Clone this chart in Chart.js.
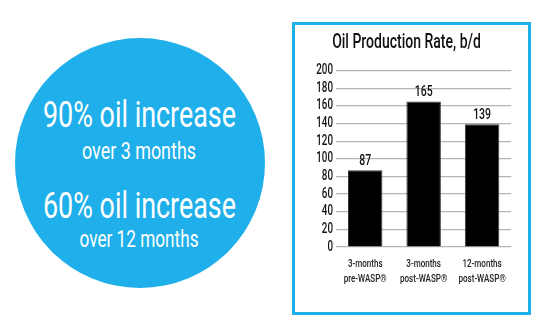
<!DOCTYPE html>
<html>
<head>
<meta charset="utf-8">
<script src="https://cdn.jsdelivr.net/npm/chart.js@4.4.1/dist/chart.umd.min.js"></script>
<style>
  html, body { margin: 0; padding: 0; background: #ffffff; width: 546px; height: 330px; overflow: hidden; }
  #bg { position: absolute; left: 0; top: 0; }
  #box { position: absolute; left: 292px; top: 22px; width: 233px; height: 287px; border: 3px solid #1fb0ea; background: #fff; }
  #chart { position: absolute; left: 295px; top: 25px; }
</style>
</head>
<body>
<svg id="bg" width="546" height="330" xmlns="http://www.w3.org/2000/svg">
  <circle cx="140" cy="163" r="125" fill="#1fafea"/>
  <g fill="#ffffff" font-family="Roboto, 'DejaVu Sans Condensed', sans-serif" text-anchor="middle">
    <text x="139.5" y="126.5" font-size="36" textLength="193" lengthAdjust="spacingAndGlyphs">90% oil increase</text>
    <text x="139" y="158.5" font-size="24.5" textLength="114" lengthAdjust="spacingAndGlyphs">over 3 months</text>
    <text x="139.5" y="218" font-size="36.5" textLength="193" lengthAdjust="spacingAndGlyphs">60% oil increase</text>
    <text x="139" y="246.5" font-size="24" textLength="119" lengthAdjust="spacingAndGlyphs">over 12 months</text>
  </g>
</svg>
<div id="box"></div>
<canvas id="chart" width="233" height="287"></canvas>
<script>
// ---- data ----
const chartTitle = "Oil Production Rate, b/d";
const categories = [["3-months", "pre-WASP®"], ["3-months", "post-WASP®"], ["12-months", "post-WASP®"]];
const oilRate = [87, 165, 139];
const yTicks = [0, 20, 40, 60, 80, 100, 120, 140, 160, 180, 200];

const FONT = "Roboto, 'DejaVu Sans Condensed', sans-serif";
const CONDENSE = 0.7;

// emulate a condensed typeface: every canvas text is squeezed horizontally
const condensedText = {
  id: 'condensedText',
  beforeInit(chart) {
    const ctx = chart.ctx;
    const orig = ctx.fillText.bind(ctx);
    ctx.fillText = function (t, x, y, mw) {
      const w = ctx.measureText(t).width * CONDENSE;
      return orig(t, x, y, mw === undefined ? w : Math.min(mw, w));
    };
  }
};

const valueLabels = {
  id: 'valueLabels',
  afterDatasetsDraw(chart, args, opts) {
    const ctx = chart.ctx;
    const meta = chart.getDatasetMeta(0);
    ctx.save();
    ctx.font = opts.weight + " " + opts.size + "px " + FONT;
    ctx.fillStyle = opts.color;
    ctx.textAlign = 'center';
    ctx.textBaseline = 'alphabetic';
    meta.data.forEach((bar, i) => {
      ctx.fillText(String(chart.data.datasets[0].data[i]), bar.x, bar.y - opts.gap);
    });
    ctx.restore();
  }
};

new Chart(document.getElementById('chart'), {
  type: 'bar',
  data: {
    labels: categories,
    datasets: [{
      data: oilRate,
      backgroundColor: '#000000',
      borderColor: '#3a3a3a',
      borderWidth: 1,
      barPercentage: 0.59,
      categoryPercentage: 1.0
    }]
  },
  options: {
    responsive: false,
    animation: false,
    layout: { padding: { left: 3, right: 13, top: 0, bottom: 15 } },
    plugins: {
      legend: { display: false },
      tooltip: { enabled: false },
      title: {
        display: true,
        text: chartTitle,
        color: '#111111',
        font: { family: FONT, size: 20, weight: '500', lineHeight: 1.2 },
        padding: { top: 6, bottom: 15.5 }
      },
      valueLabels: { size: 15, weight: '500', color: '#111111', gap: 5 }
    },
    scales: {
      x: {
        offset: true,
        grid: { display: false, drawTicks: false },
        border: { display: false },
        ticks: {
          color: '#222222',
          padding: 10,
          font: { family: FONT, size: 11.5, weight: '500', lineHeight: 1.3 },
          maxRotation: 0,
          minRotation: 0,
          autoSkip: false
        },
        afterFit(scale) { scale.height = 50; }
      },
      y: {
        min: 0,
        max: 200,
        afterBuildTicks(scale) { scale.ticks = yTicks.map(v => ({ value: v })); },
        grid: { color: '#b5b5b5', lineWidth: 1.2, drawTicks: false },
        border: { display: false },
        ticks: {
          color: '#111111',
          padding: 3,
          autoSkip: false,
          font: { family: FONT, size: 14, weight: '500' }
        },
        afterFit(scale) { scale.width = 38; }
      }
    }
  },
  plugins: [condensedText, valueLabels]
});
</script>
</body>
</html>
